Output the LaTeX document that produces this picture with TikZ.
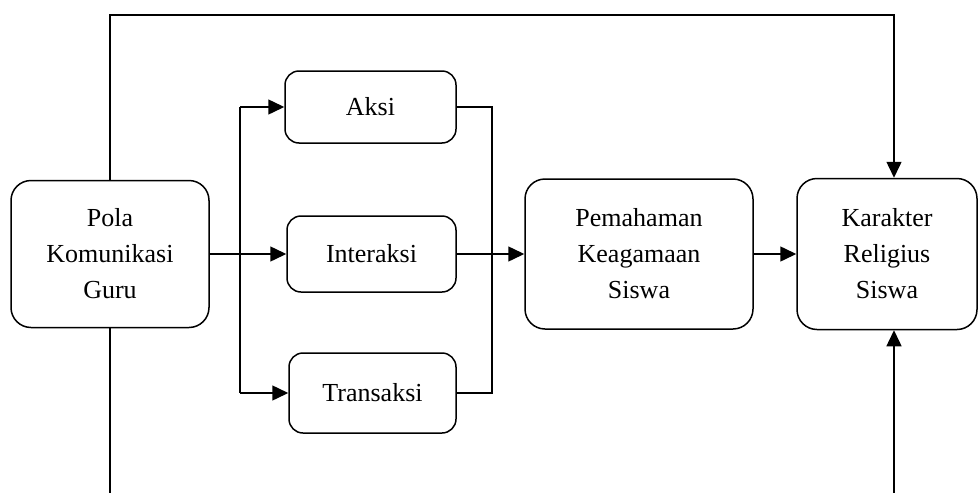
\documentclass[tikz,border=0pt]{standalone}
\usepackage{fontspec}
\setmainfont{Liberation Serif}
\usetikzlibrary{arrows.meta}
\tikzstyle{kotak}=[draw, rounded corners=20pt, line width=1.5pt, align=center, font=\fontsize{26}{36}\selectfont]
\tikzstyle{kecil}=[kotak, rounded corners=14pt]
\tikzstyle{panah}=[-{Triangle[length=16pt, width=15pt]}]

\begin{document}
\begin{tikzpicture}[x=1pt, y=-1pt, line width=1.5pt]
                \useasboundingbox (0,0) rectangle (978,493);
                \node[kotak, minimum width=198pt, minimum height=147pt] (pola) at (110, 254) {Pola\\Komunikasi\\Guru};
                \node[kecil, minimum width=171pt, minimum height=72pt] (aksi) at (370.5, 107) {Aksi};
                \node[kecil, minimum width=169pt, minimum height=76pt] (interaksi) at (371.5, 254) {Interaksi};
                \node[kecil, minimum width=167pt, minimum height=80pt] (transaksi) at (372.5, 393) {Transaksi};
                \node[kotak, minimum width=228pt, minimum height=150pt] (paham) at (639, 254) {Pemahaman\\Keagamaan\\Siswa};
                \node[kotak, minimum width=180pt, minimum height=151pt] (karakter) at (887, 254) {Karakter\\Religius\\Siswa};
                \coordinate (atas) at (894, 15);
                \coordinate (bawahkiri) at (110, 493);
                \coordinate (bawahkanan) at (894, 493);
                \coordinate (cabang) at (240, 254);
                \coordinate (kumpul) at (492, 254);
                \draw[panah] (pola.east) -- (interaksi.west);
                \draw[panah] (cabang |- aksi.west) -- (aksi.west);
                \draw[panah] (cabang |- transaksi.west) -- (transaksi.west);
                \draw (cabang |- aksi.west) -- (cabang |- transaksi.west);
                \draw (aksi.east) -- (aksi.east -| kumpul) -- (transaksi.east -| kumpul) -- (transaksi.east);
                \draw[panah] (interaksi.east) -- (paham.west);
                \draw[panah] (paham.east) -- (karakter.west);
                \draw[panah] (pola.north) |- (atas) -- (atas |- karakter.north);
                \draw (pola.south) -- (bawahkiri);
                \draw[panah] (bawahkanan) -- (bawahkanan |- karakter.south);
            \end{tikzpicture}
\end{document}
